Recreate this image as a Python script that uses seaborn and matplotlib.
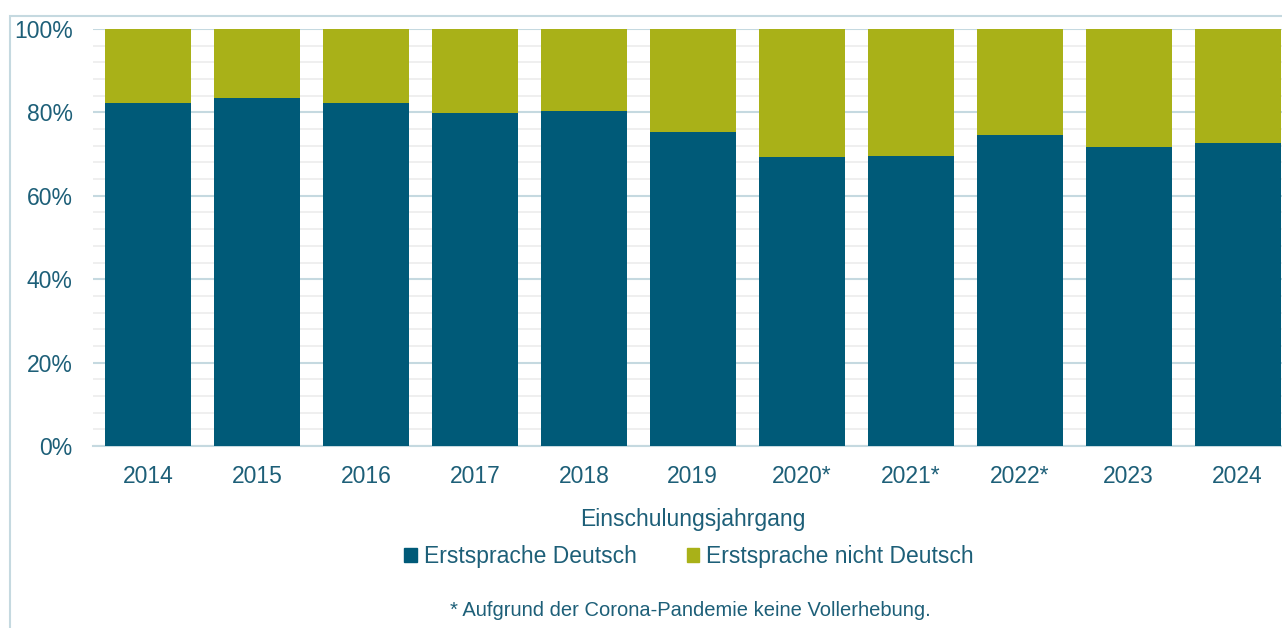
import matplotlib
matplotlib.use("Agg")
import matplotlib.pyplot as plt
import matplotlib.patches as mpatches
from matplotlib.ticker import MultipleLocator, PercentFormatter
import seaborn as sns
import pandas as pd

years = ["2014", "2015", "2016", "2017", "2018", "2019", "2020*", "2021*", "2022*", "2023", "2024"]
deutsch = [82.3, 83.4, 82.3, 79.9, 80.3, 75.3, 69.3, 69.5, 74.5, 71.7, 72.7]
nicht_deutsch = [17.7, 16.6, 17.7, 20.1, 19.7, 24.7, 30.7, 30.5, 25.5, 28.3, 27.3]

blue = "#005a78"
green = "#a9b118"
text_color = "#1d5f78"
major_grid = "#c5d9e0"
minor_grid = "#ececec"
fs = 16.5

sns.set_theme(style="white")
plt.rcParams["font.family"] = ["Liberation Sans", "DejaVu Sans"]

df = pd.DataFrame({"Jahr": years, "Deutsch": deutsch, "Nicht": nicht_deutsch})
df["Gesamt"] = df["Deutsch"] + df["Nicht"]

fig = plt.figure(figsize=(12.82, 6.28), dpi=100)
ax = fig.add_axes([0.0729, 0.2898, 0.935, 0.664])

# outer frame of the chart (cut off at right/bottom like the original)
fig.patches.append(mpatches.Rectangle((10 / 1282, -0.05), 1.2, 1 - 16 / 628 + 0.05,
                                      transform=fig.transFigure, fill=False,
                                      edgecolor=major_grid, linewidth=1.5, zorder=0))

# stacked bars: total (green) then German share (blue) on top
sns.barplot(data=df, x="Jahr", y="Gesamt", color=green, width=0.79, ax=ax,
            saturation=1, edgecolor="none", zorder=3)
sns.barplot(data=df, x="Jahr", y="Deutsch", color=blue, width=0.79, ax=ax,
            saturation=1, edgecolor="none", zorder=4)

ax.set_ylim(0, 100)
ax.set_xlim(-0.5, len(years) - 0.5)
ax.yaxis.set_major_locator(MultipleLocator(20))
ax.yaxis.set_minor_locator(MultipleLocator(4))
ax.yaxis.set_major_formatter(PercentFormatter(100, decimals=0))
ax.grid(axis="y", which="major", color=major_grid, linewidth=1.5, zorder=1)
ax.grid(axis="y", which="minor", color=minor_grid, linewidth=1.2, zorder=0)
ax.set_axisbelow(True)

for s in ["top", "right", "left"]:
    ax.spines[s].set_visible(False)
ax.spines["bottom"].set_color(major_grid)
ax.spines["bottom"].set_linewidth(1.5)

ax.tick_params(axis="y", which="both", length=0, pad=15, labelsize=fs, labelcolor=text_color)
ax.tick_params(axis="x", length=0, pad=14, labelsize=fs, labelcolor=text_color)
ax.set_ylabel("")
ax.set_xlabel("Einschulungsjahrgang", fontsize=fs, color=text_color, labelpad=14)

handles = [mpatches.Patch(color=blue, label="Erstsprache Deutsch"),
           mpatches.Patch(color=green, label="Erstsprache nicht Deutsch")]
fig.legend(handles=handles, loc="center", bbox_to_anchor=(689 / 1282, 1 - 557 / 628),
           ncol=2, frameon=False, fontsize=fs, labelcolor=text_color,
           handlelength=0.55, handleheight=0.55, handletextpad=0.3, columnspacing=2.2)

fig.text(690 / 1282, 1 - 610 / 628, "* Aufgrund der Corona-Pandemie keine Vollerhebung.",
         ha="center", va="center", fontsize=14.5, color=text_color)

fig.savefig("out.png", dpi=100)
